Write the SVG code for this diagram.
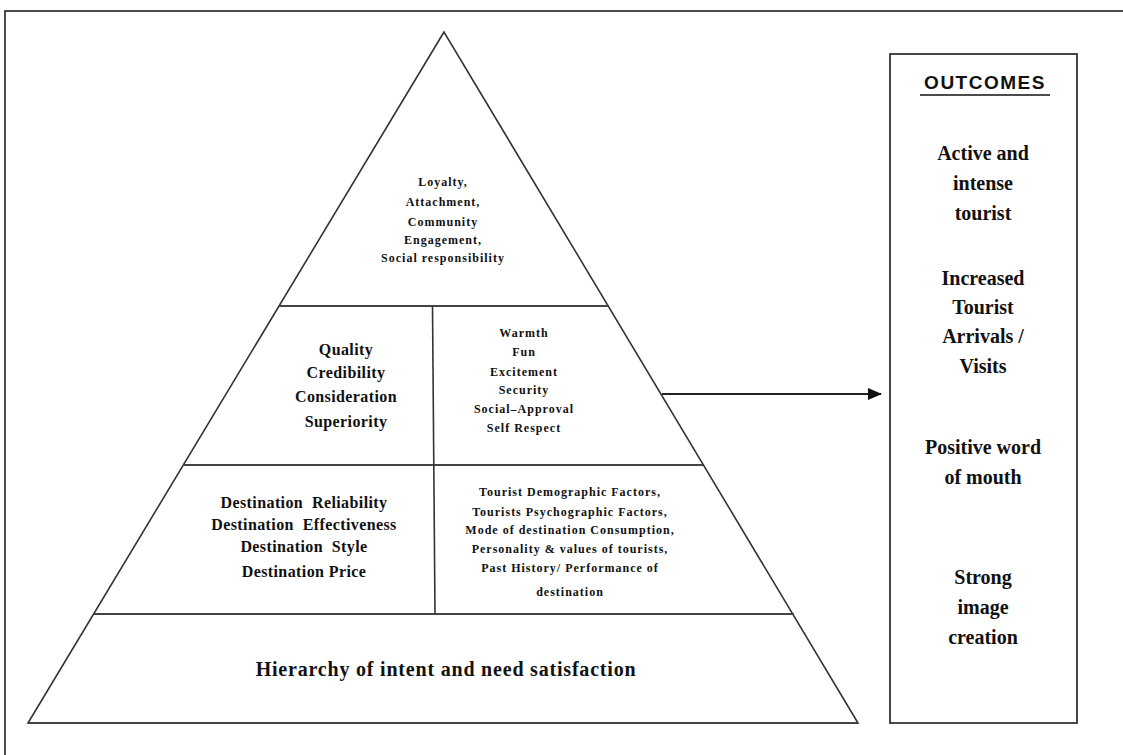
<svg xmlns="http://www.w3.org/2000/svg" width="1123" height="755" viewBox="0 0 1123 755">
<style>
.ln{fill:none;stroke:#333;stroke-width:1.6}
.hl{fill:none;stroke:#444;stroke-width:2.2}
.s{font-family:"Liberation Serif","Times New Roman",serif;font-weight:bold;font-size:12px;letter-spacing:1px;fill:#111;text-anchor:middle}
.m{font-family:"Liberation Serif","Times New Roman",serif;font-weight:bold;font-size:16px;letter-spacing:0.4px;fill:#111;text-anchor:middle}
.pre{white-space:pre}
.o{font-family:"Liberation Serif","Times New Roman",serif;font-weight:bold;font-size:20px;fill:#111;text-anchor:middle}
.h{font-family:"Liberation Serif","Times New Roman",serif;font-weight:bold;font-size:20px;letter-spacing:0.8px;fill:#111;text-anchor:middle}
</style>
<defs>
<marker id="ah" markerWidth="14" markerHeight="12" refX="13" refY="6" orient="auto" markerUnits="userSpaceOnUse">
<path d="M0,0 L14,6 L0,12 Z" fill="#111"/>
</marker>
</defs>
<rect x="5" y="11" width="1130" height="760" fill="#fff" stroke="#222" stroke-width="1.6"/>
<g id="pyramid">
<path class="ln" d="M444,32 L28,723 L858,723 Z"/>
<line class="hl" x1="28" y1="723" x2="858" y2="723" stroke-width="2.8"/>
<line class="hl" x1="279" y1="306" x2="609" y2="306"/>
<line class="hl" x1="183" y1="465" x2="703" y2="465"/>
<line class="hl" x1="94" y1="614" x2="794" y2="614"/>
<line class="ln" x1="432.5" y1="306" x2="435" y2="614"/>
</g>
<g id="node-top">
<text class="s" x="443" y="186">Loyalty,</text>
<text class="s" x="443" y="206">Attachment,</text>
<text class="s" x="443" y="226">Community</text>
<text class="s" x="443" y="244">Engagement,</text>
<text class="s" x="443" y="262">Social responsibility</text>
</g>
<g id="node-quality">
<text class="m" x="346" y="355">Quality</text>
<text class="m" x="346" y="378">Credibility</text>
<text class="m" x="346" y="402">Consideration</text>
<text class="m" x="346" y="427">Superiority</text>
</g>
<g id="node-warmth">
<text class="s" x="524" y="337">Warmth</text>
<text class="s" x="524" y="356">Fun</text>
<text class="s" x="524" y="376">Excitement</text>
<text class="s" x="524" y="394">Security</text>
<text class="s" x="524" y="413">Social–Approval</text>
<text class="s" x="524" y="432">Self Respect</text>
</g>
<g id="node-destination">
<text class="m pre" x="304" y="508">Destination  Reliability</text>
<text class="m pre" x="304" y="530">Destination  Effectiveness</text>
<text class="m pre" x="304" y="552">Destination  Style</text>
<text class="m" x="304" y="577">Destination Price</text>
</g>
<g id="node-tourist">
<text class="s" x="570" y="496">Tourist Demographic Factors,</text>
<text class="s" x="570" y="516">Tourists Psychographic Factors,</text>
<text class="s" x="570" y="534">Mode of destination Consumption,</text>
<text class="s" x="570" y="553">Personality &amp; values of tourists,</text>
<text class="s" x="570" y="572">Past History/ Performance of</text>
<text class="s" x="570" y="596">destination</text>
</g>
<g id="node-base">
<text class="h" x="446" y="676">Hierarchy of intent and need satisfaction</text>
</g>
<g id="node-outcomes">
<rect x="890" y="54" width="187" height="669" fill="#fff" stroke="#333" stroke-width="1.8"/>
<text x="985" y="89" font-family="Liberation Sans, Arial, sans-serif" font-weight="bold" font-size="19" letter-spacing="1.5" text-anchor="middle" fill="#111">OUTCOMES</text>
<line x1="920" y1="95" x2="1050" y2="95" stroke="#111" stroke-width="1.5"/>
<text class="o" x="983" y="160">Active and</text>
<text class="o" x="983" y="190">intense</text>
<text class="o" x="983" y="220">tourist</text>
<text class="o" x="983" y="285">Increased</text>
<text class="o" x="983" y="314">Tourist</text>
<text class="o" x="983" y="343">Arrivals /</text>
<text class="o" x="983" y="373">Visits</text>
<text class="o" x="983" y="454">Positive word</text>
<text class="o" x="983" y="484">of mouth</text>
<text class="o" x="983" y="584">Strong</text>
<text class="o" x="983" y="614">image</text>
<text class="o" x="983" y="644">creation</text>
</g>
<g id="connectors">
<line x1="662" y1="394" x2="881" y2="394" stroke="#222" stroke-width="1.8" marker-end="url(#ah)"/>
</g>
</svg>
